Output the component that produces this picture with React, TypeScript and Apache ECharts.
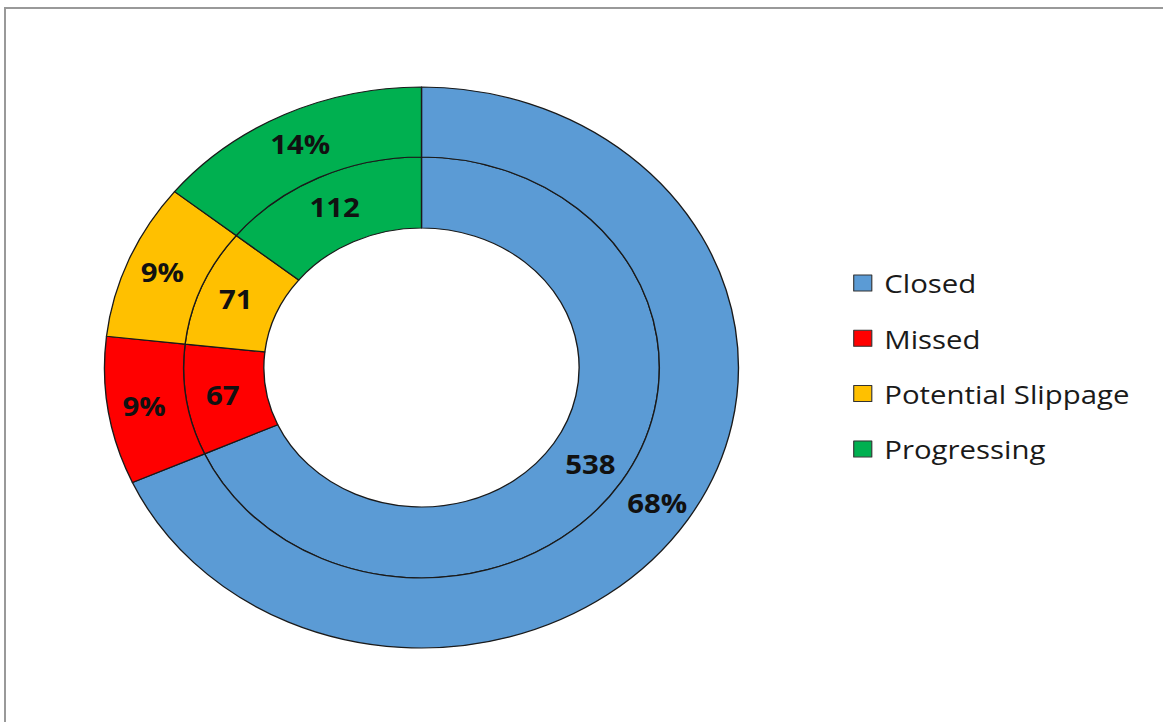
import React, { useEffect, useRef } from "react";
import * as echarts from "echarts";

const categories = ["Closed", "Missed", "Potential Slippage", "Progressing"];
const counts = [538, 67, 71, 112];
const colors = ["#5B9BD5", "#FF0000", "#FFC000", "#00B050"];

const STRETCH = 1.13;
const W = 1163;
const H = 722;

export default function App() {
  const ref = useRef<HTMLDivElement>(null);
  useEffect(() => {
    document.body.style.margin = "0";
    if (!ref.current) return;
    const chart = echarts.init(ref.current, undefined, { renderer: "svg" });
    const data = categories.map((name, i) => ({
      name,
      value: counts[i],
      itemStyle: { color: colors[i] },
    }));
    const labelFont = {
      fontFamily: "Open Sans",
      fontWeight: "bold" as const,
      fontSize: 26,
      color: "#111",
    };
    const cx = 373;
    const cy = 367.5;
    chart.setOption({
      animation: false,
      backgroundColor: "transparent",
      legend: {
        orient: "vertical",
        left: 750,
        top: 265,
        itemWidth: 16,
        itemHeight: 16,
        itemGap: 29.3,
        icon: "rect",
        data: categories,
        itemStyle: { borderColor: "#333", borderWidth: 1 },
        textStyle: {
          fontFamily: "Open Sans",
          fontSize: 26,
          color: "#1a1a1a",
          padding: [0, 0, 0, 6],
        },
      },
      series: [
        {
          type: "pie",
          name: "Counts",
          center: [cx, cy],
          radius: [139.5, 210.5],
          startAngle: 90,
          clockwise: true,
          avoidLabelOverlap: false,
          data,
          itemStyle: { borderColor: "#1a1a1a", borderWidth: 1.2 },
          label: {
            show: true,
            position: "inside",
            formatter: (p: any) => String(p.value),
            ...labelFont,
          },
          labelLine: { show: false },
          emphasis: { disabled: true },
        },
        {
          type: "pie",
          name: "Percent",
          center: [cx, cy],
          radius: [210.5, 280.5],
          startAngle: 90,
          clockwise: true,
          avoidLabelOverlap: false,
          data,
          itemStyle: { borderColor: "#1a1a1a", borderWidth: 1.2 },
          label: {
            show: true,
            position: "inside",
            formatter: (p: any) => Math.round(p.percent) + "%",
            ...labelFont,
          },
          labelLine: { show: false },
          emphasis: { disabled: true },
        },
      ],
    });
    return () => chart.dispose();
  }, []);

  return (
    <div
      style={{
        position: "fixed",
        left: 0,
        top: 0,
        width: W,
        height: H,
        overflow: "hidden",
        background: "#fff",
      }}
    >
      <div
        style={{
          position: "absolute",
          left: 4,
          top: 7,
          width: W + 20,
          height: H + 20,
          border: "2px solid #999",
          boxSizing: "border-box",
        }}
      />
      <div
        ref={ref}
        style={{
          position: "absolute",
          left: 0,
          top: 0,
          width: W / STRETCH,
          height: H,
          transform: `scaleX(${STRETCH})`,
          transformOrigin: "0 0",
        }}
      />
    </div>
  );
}
